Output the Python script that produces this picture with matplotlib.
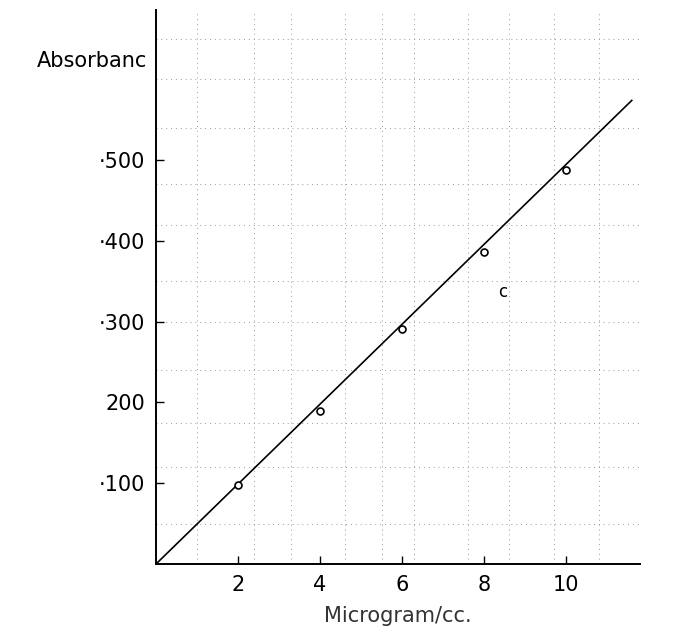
import matplotlib.pyplot as plt

# readings
conc = [2, 4, 6, 8, 10]            # microgram/cc
absorb = [98, 190, 291, 386, 488]  # absorbance x 1000
line_x = [0, 11.6]
line_y = [0, 574]

xticks = [2, 4, 6, 8, 10]
yticks = [100, 200, 300, 400, 500]
ylabels = ['\u00b7100', '200', '\u00b7300', '\u00b7400', '\u00b7500']

fig = plt.figure(figsize=(6.74, 6.39), dpi=100)
ax = fig.add_axes([0.2315, 0.1174, 0.718, 0.867])

# faint graph paper showing through
for gx in [1, 2.4, 3.3, 4.6, 5.5, 6.3, 7.6, 8.6, 9.7, 10.8]:
    ax.axvline(gx, color='0.6', lw=0.7, ls=(0, (1, 4)), zorder=0)
for gy in [50, 120, 175, 240, 300, 350, 420, 470, 540, 600, 650]:
    ax.axhline(gy, color='0.6', lw=0.7, ls=(0, (1, 4)), zorder=0)

ax.plot(line_x, line_y, color='black', lw=1.2)
ax.plot(conc, absorb, 'o', mfc='white', mec='black', ms=5, mew=1.2)

ax.set_xlim(0, 11.8)
ax.set_ylim(0, 686)
ax.set_xticks(xticks)
ax.set_xticklabels([str(v) for v in xticks])
ax.set_yticks(yticks)
ax.set_yticklabels(ylabels)
ax.tick_params(direction='in', length=6, width=1, labelsize=15, pad=8)

for s in ['top', 'right']:
    ax.spines[s].set_visible(False)
for s in ['left', 'bottom']:
    ax.spines[s].set_linewidth(1.4)

ax.set_xlabel('Microgram/cc.', fontsize=15, color='0.2', labelpad=8)
fig.text(0.055, 0.905, 'Absorbanc', fontsize=15, fontweight='medium', ha='left', va='center')
ax.text(8.35, 330, 'c', fontsize=12)

fig.savefig('out.png', dpi=100)
